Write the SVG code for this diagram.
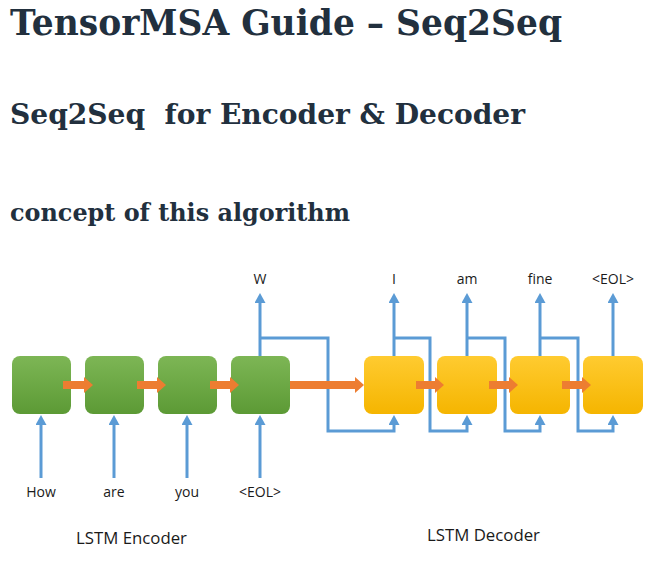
<svg xmlns="http://www.w3.org/2000/svg" width="664" height="571" viewBox="0 0 664 571">
<defs>
<linearGradient id="gGreen" x1="0" y1="0" x2="0" y2="1">
<stop offset="0" stop-color="#7db655"/>
<stop offset="1" stop-color="#5c9a35"/>
</linearGradient>
<linearGradient id="gYellow" x1="0" y1="0" x2="0" y2="1">
<stop offset="0" stop-color="#ffcb30"/>
<stop offset="1" stop-color="#f5b500"/>
</linearGradient>
<marker id="ah" viewBox="0 0 10 11" refX="5" refY="5.5" markerWidth="10" markerHeight="11" markerUnits="userSpaceOnUse" orient="auto">
<path d="M0,0 L10,5.5 L0,11 z" fill="#5b9bd5"/>
</marker>
<style>
.h{font-family:"DejaVu Serif","Liberation Serif",serif;font-weight:bold;fill:#22303e;white-space:pre}
.lbl{font-family:"Open Sans","Noto Sans","Liberation Sans",sans-serif;font-size:14px;fill:#1a1a1a;text-anchor:middle}
.cap{font-family:"Open Sans","Noto Sans","Liberation Sans",sans-serif;font-size:16.8px;fill:#1a1a1a}
.green{fill:url(#gGreen)}
.yellow{fill:url(#gYellow)}
.blue{fill:none;stroke:#5b9bd5;stroke-width:3;marker-end:url(#ah)}
.fb{fill:none;stroke:#5b9bd5;stroke-width:3;stroke-linejoin:miter;marker-end:url(#ah)}
.or{fill:#ed7d31}
</style>
</defs>
<rect width="664" height="571" fill="#ffffff"/>
<g id="headings">
<text class="h" x="10" y="35" font-size="35" textLength="552" lengthAdjust="spacingAndGlyphs">TensorMSA Guide – Seq2Seq</text>
<text class="h" x="10" y="124" font-size="28" textLength="515" lengthAdjust="spacingAndGlyphs">Seq2Seq  for Encoder &amp; Decoder</text>
<text class="h" x="10" y="221" font-size="24" textLength="340" lengthAdjust="spacingAndGlyphs">concept of this algorithm</text>
</g>
<g id="connectors">
<path class="blue" d="M41,478 V420"/>
<path class="blue" d="M114,478 V420"/>
<path class="blue" d="M187,478 V420"/>
<path class="blue" d="M260,478 V420"/>
<path class="blue" d="M260,356 V298"/>
<path class="blue" d="M394,356 V298"/>
<path class="blue" d="M467,356 V298"/>
<path class="blue" d="M540,356 V298"/>
<path class="blue" d="M613,356 V298"/>
<path class="fb" d="M260,338 H328 V431 H394 V420"/>
<path class="fb" d="M394,338 H430 V431 H467 V420"/>
<path class="fb" d="M467,338 H505 V431 H540 V420"/>
<path class="fb" d="M540,338 H578 V431 H613 V420"/>
</g>
<g id="enc1"><rect class="green" x="12" y="356" width="59" height="58" rx="8"/></g>
<g id="enc2"><rect class="green" x="85" y="356" width="59" height="58" rx="8"/></g>
<g id="enc3"><rect class="green" x="158" y="356" width="59" height="58" rx="8"/></g>
<g id="enc4"><rect class="green" x="231" y="356" width="59" height="58" rx="8"/></g>
<g id="dec1"><rect class="yellow" x="364" y="356" width="60" height="58" rx="8"/></g>
<g id="dec2"><rect class="yellow" x="437" y="356" width="60" height="58" rx="8"/></g>
<g id="dec3"><rect class="yellow" x="510" y="356" width="60" height="58" rx="8"/></g>
<g id="dec4"><rect class="yellow" x="583" y="356" width="60" height="58" rx="8"/></g>
<g id="state-arrows">
<polygon class="or" points="63,381 84,381 84,377 93,385 84,393 84,389 63,389"/>
<polygon class="or" points="137,381 157,381 157,377 166,385 157,393 157,389 137,389"/>
<polygon class="or" points="210,381 230,381 230,377 239,385 230,393 230,389 210,389"/>
<polygon class="or" points="290,381 355,381 355,377 364,385 355,393 355,389 290,389"/>
<polygon class="or" points="416,381 435,381 435,377 444,385 435,393 435,389 416,389"/>
<polygon class="or" points="489,381 509,381 509,377 518,385 509,393 509,389 489,389"/>
<polygon class="or" points="562,381 582,381 582,377 591,385 582,393 582,389 562,389"/>
</g>
<g id="labels">
<text class="lbl" x="260" y="284">W</text>
<text class="lbl" x="394" y="284">I</text>
<text class="lbl" x="467" y="284">am</text>
<text class="lbl" x="540" y="284">fine</text>
<text class="lbl" x="613" y="284">&lt;EOL&gt;</text>
<text class="lbl" x="41" y="497">How</text>
<text class="lbl" x="114" y="497">are</text>
<text class="lbl" x="187" y="497">you</text>
<text class="lbl" x="260" y="497">&lt;EOL&gt;</text>
<text class="cap" x="76" y="544">LSTM Encoder</text>
<text class="cap" x="427" y="541">LSTM Decoder</text>
</g>
</svg>
